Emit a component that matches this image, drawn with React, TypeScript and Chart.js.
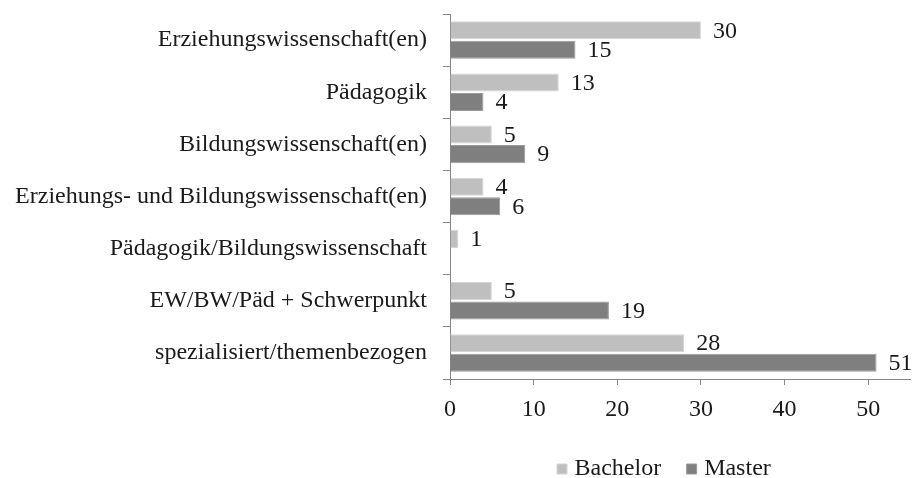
import React, { useEffect, useRef } from "react";
import { Chart, registerables } from "chart.js";

Chart.register(...registerables);

const categories = [
  "Erziehungswissenschaft(en)",
  "Pädagogik",
  "Bildungswissenschaft(en)",
  "Erziehungs- und Bildungswissenschaft(en)",
  "Pädagogik/Bildungswissenschaft",
  "EW/BW/Päd + Schwerpunkt",
  "spezialisiert/themenbezogen",
];
const bachelorValues: (number | null)[] = [30, 13, 5, 4, 1, 5, 28];
const masterValues: (number | null)[] = [15, 4, 9, 6, null, 19, 51];
const xTicks = [0, 10, 20, 30, 40, 50];

const FONT = "'Liberation Serif', 'Times New Roman', serif";
const FS = 24;

const valueLabels = {
  id: "valueLabels",
  afterDatasetsDraw(chart: any) {
    const ctx = chart.ctx;
    ctx.save();
    ctx.font = `${FS}px ${FONT}`;
    ctx.fillStyle = "#1a1a1a";
    ctx.textAlign = "left";
    ctx.textBaseline = "middle";
    chart.data.datasets.forEach((ds: any, di: number) => {
      const meta = chart.getDatasetMeta(di);
      meta.data.forEach((el: any, i: number) => {
        const v = ds.data[i];
        if (v === null || v === undefined) return;
        ctx.fillText(String(v), el.x + 12, el.y + 1);
      });
    });
    ctx.restore();
  },
};

const legendPlacer = {
  id: "legendPlacer",
  afterLayout(chart: any) {
    const L = chart.legend;
    if (!L || !L.lineWidths) return;
    const pad = L.options.labels.padding;
    const startX = (L.left + pad + L.right - L.lineWidths[0]) / 2;
    const dx = 561.5 - startX;
    L.left += dx;
    L.right += dx;
    const textCenter = L.top + pad + FS / 2;
    const dy = 469 - textCenter;
    L.top += dy;
    L.bottom += dy;
  },
};

export default function App() {
  const ref = useRef<HTMLCanvasElement>(null);
  useEffect(() => {
    document.body.style.margin = "0";
    const chart = new Chart(ref.current!, {
      type: "bar",
      data: {
        labels: categories,
        datasets: [
          {
            label: "Bachelor",
            data: bachelorValues,
            backgroundColor: "#bfbfbf",
            borderColor: "#d4d4d4",
            borderWidth: 1,
            categoryPercentage: 0.75,
            barPercentage: 0.923,
          },
          {
            label: "Master",
            data: masterValues,
            backgroundColor: "#7f7f7f",
            borderColor: "#9a9a9a",
            borderWidth: 1,
            categoryPercentage: 0.75,
            barPercentage: 0.923,
          },
        ],
      },
      options: {
        indexAxis: "y",
        animation: false,
        responsive: true,
        maintainAspectRatio: false,
        layout: { padding: { top: 14, right: 4, bottom: 0, left: 0 } },
        scales: {
          x: {
            min: 0,
            max: 55,
            afterBuildTicks: (scale: any) => {
              scale.ticks = xTicks.map((v) => ({ value: v }));
            },
            afterFit: (scale: any) => {
              scale.height = 49;
              scale.paddingLeft = 0;
              scale.paddingRight = 0;
            },
            grid: {
              drawOnChartArea: false,
              drawTicks: true,
              tickLength: 6,
              color: "#868686",
            },
            border: { display: true, color: "#868686", width: 1 },
            ticks: {
              color: "#1a1a1a",
              font: { family: FONT, size: FS },
              padding: 10,
              maxRotation: 0,
            },
          },
          y: {
            afterFit: (scale: any) => {
              scale.width = 450;
              scale.paddingTop = 0;
              scale.paddingBottom = 0;
            },
            grid: {
              drawOnChartArea: false,
              drawTicks: true,
              tickLength: 7,
              offset: true,
              color: "#868686",
            },
            border: { display: true, color: "#868686", width: 1 },
            ticks: {
              color: "#1a1a1a",
              font: { family: FONT, size: FS },
              padding: 16,
            },
          },
        },
        plugins: {
          legend: {
            position: "bottom",
            maxHeight: 50,
            labels: {
              usePointStyle: true,
              pointStyle: "rect",
              boxWidth: 1,
              boxHeight: 10,
              padding: 30,
              color: "#1a1a1a",
              font: { family: FONT, size: FS },
            },
          },
          tooltip: { enabled: false },
        },
      },
      plugins: [valueLabels, legendPlacer],
    });
    return () => chart.destroy();
  }, []);
  return (
    <div style={{ position: "relative", width: 914, height: 478 }}>
      <canvas ref={ref} />
    </div>
  );
}
